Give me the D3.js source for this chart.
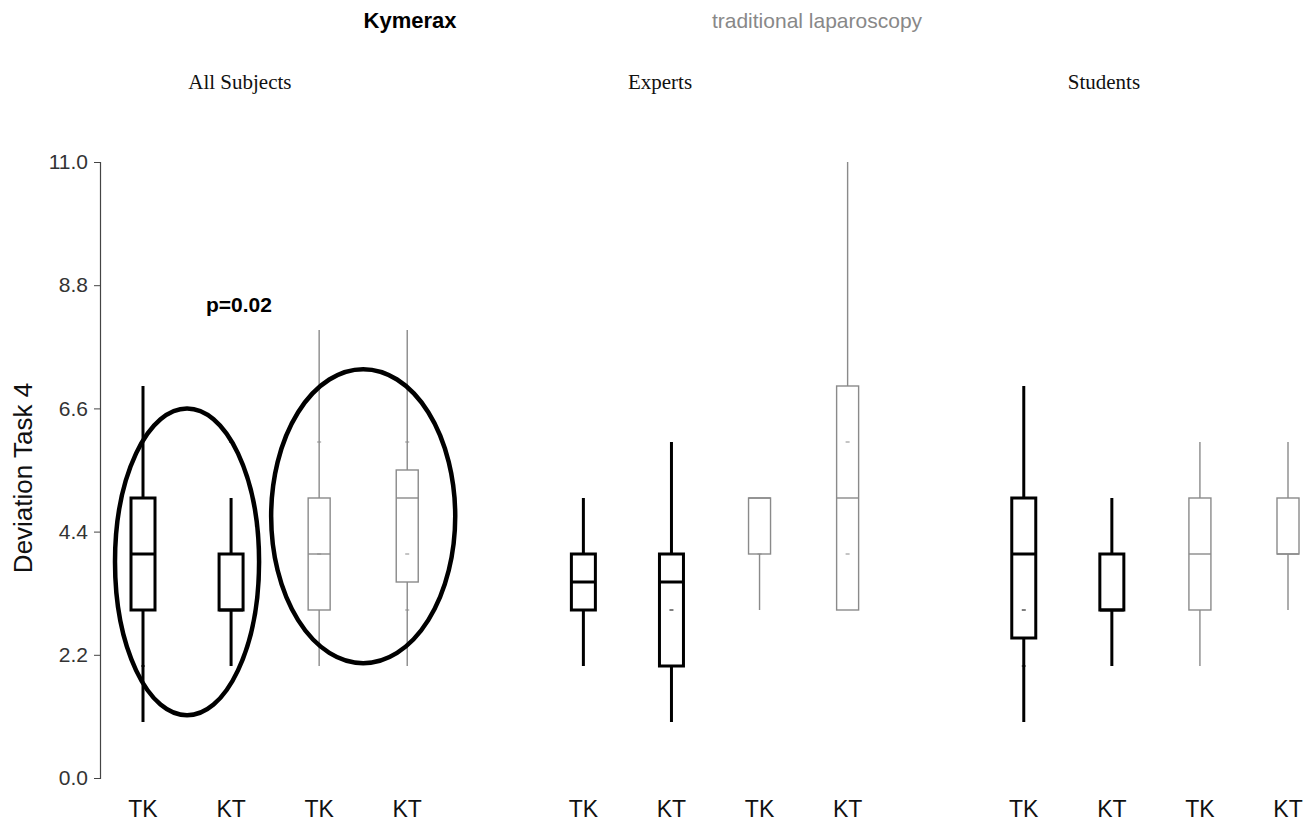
<!DOCTYPE html>
<html><head><meta charset="utf-8">
<script src="https://cdn.jsdelivr.net/npm/d3@7"></script>
<style>body{margin:0;background:#fff}</style>
</head><body>
<svg id="c" width="1315" height="822"></svg>
<script>
// ---- data ----
const xLabels = ["TK","KT","TK","KT","TK","KT","TK","KT","TK","KT","TK","KT"];
const slots   = [0,1,2,3, 5,6,7,8, 10,11,12,13];
const method  = ["K","K","T","T","K","K","T","T","K","K","T","T"]; // K = Kymerax (black), T = traditional (grey)
const whiskLo = [1,2,2,2,   2,1,3,3,    1,2,2,3];
const q1      = [3,3,3,3.5, 3,2,4,3,    2.5,3,3,4];
const median  = [4,3,4,5,   3.5,3.5,5,5, 4,3,4,4];
const q3      = [5,4,5,5.5, 4,4,5,7,    5,4,5,5];
const whiskHi = [7,5,8,8,   5,6,5,11,   7,5,6,6];
const dots    = [[2,4,5],[4,6],[6,4],[6,4,3],[],[3],[4],[6,4],[3,2],[],[],[]];
const groups  = ["All Subjects","Experts","Students"];
const groupCenterSlots = [1.1,5.87,10.91];
const yTicks  = [0,2.2,4.4,6.6,8.8,11];
const ellipses = [ {s0:0, s1:1, lo:1.12, hi:6.6}, {s0:2, s1:3, lo:2.05, hi:7.3} ];

// ---- chart ----
const svg = d3.select("#c");
const y = d3.scaleLinear().domain([0,11]).range([778,162]);
const x = d3.scaleLinear().domain([0,13]).range([143,1288]);
const sans = "Liberation Sans, Arial, sans-serif";

// y axis
const axisX = 100;
const ax = svg.append("g").attr("transform",`translate(${axisX},0)`)
  .call(d3.axisLeft(y).tickValues(yTicks).tickFormat(d3.format(".1f")).tickSizeOuter(0).tickSize(6).tickPadding(6));
ax.select(".domain").attr("stroke","#444").attr("stroke-width",1.2);
ax.selectAll(".tick line").attr("stroke","#444");
ax.selectAll(".tick text").attr("font-family",sans).attr("font-size",21).attr("fill","#333");

svg.append("text").attr("transform","translate(32,478) rotate(-90)")
  .attr("text-anchor","middle").attr("font-family",sans)
  .attr("font-size",26).attr("fill","#111").text("Deviation Task 4");

// titles
svg.append("text").attr("x",410).attr("y",28).attr("text-anchor","middle")
  .attr("font-family",sans).attr("font-weight","bold").attr("font-size",22).text("Kymerax");
svg.append("text").attr("x",817).attr("y",28).attr("text-anchor","middle")
  .attr("font-family",sans).attr("font-size",21).attr("fill","#888").text("traditional laparoscopy");
svg.selectAll(".grp").data(groups).join("text").attr("class","grp")
  .attr("x",(d,i)=>x(groupCenterSlots[i])).attr("y",89).attr("text-anchor","middle")
  .attr("font-family","Liberation Serif, Times New Roman, serif").attr("font-size",21).attr("fill","#111").text(d=>d);

// x labels
svg.selectAll(".xl").data(xLabels).join("text").attr("class","xl")
  .attr("x",(d,i)=>x(slots[i])).attr("y",817).attr("text-anchor","middle")
  .attr("font-family",sans).attr("font-size",23).attr("fill","#111").text(d=>d);

// boxes
const bw = i => method[i]==="K" ? 24 : 22;
const col = i => method[i]==="K" ? "#000" : "#8a8a8a";
const sw = i => method[i]==="K" ? 3 : 1.4;
const idx = d3.range(xLabels.length);
const g = svg.append("g");
idx.forEach(i=>{
  const cx = x(slots[i]);
  const gg = g.append("g").attr("stroke",col(i)).attr("stroke-width",sw(i)).attr("fill","none");
  gg.append("line").attr("x1",cx).attr("x2",cx).attr("y1",y(whiskHi[i])).attr("y2",y(q3[i]));
  gg.append("line").attr("x1",cx).attr("x2",cx).attr("y1",y(q1[i])).attr("y2",y(whiskLo[i]));
  gg.append("rect").attr("x",cx-bw(i)/2).attr("width",bw(i)).attr("y",y(q3[i])).attr("height",y(q1[i])-y(q3[i])).attr("fill","#fff");
  gg.append("line").attr("x1",cx-bw(i)/2).attr("x2",cx+bw(i)/2).attr("y1",y(median[i])).attr("y2",y(median[i]));
  dots[i].forEach(v=>{
    gg.append("line").attr("x1",cx-2).attr("x2",cx+2).attr("y1",y(v)).attr("y2",y(v)).attr("stroke-width",1);
  });
});

// annotation ellipses
ellipses.forEach(e=>{
  const cx = (x(slots[e.s0])+x(slots[e.s1]))/2;
  const rx = (x(slots[e.s1])-x(slots[e.s0]))/2 + (e.s0===0?28:48);
  svg.append("ellipse").attr("cx",cx).attr("cy",(y(e.lo)+y(e.hi))/2)
    .attr("rx",rx).attr("ry",(y(e.lo)-y(e.hi))/2)
    .attr("fill","none").attr("stroke","#000").attr("stroke-width",4.5);
});
svg.append("text").attr("x",239).attr("y",312).attr("text-anchor","middle")
  .attr("font-family",sans).attr("font-weight","bold").attr("font-size",21).text("p=0.02");
</script>
</body></html>
